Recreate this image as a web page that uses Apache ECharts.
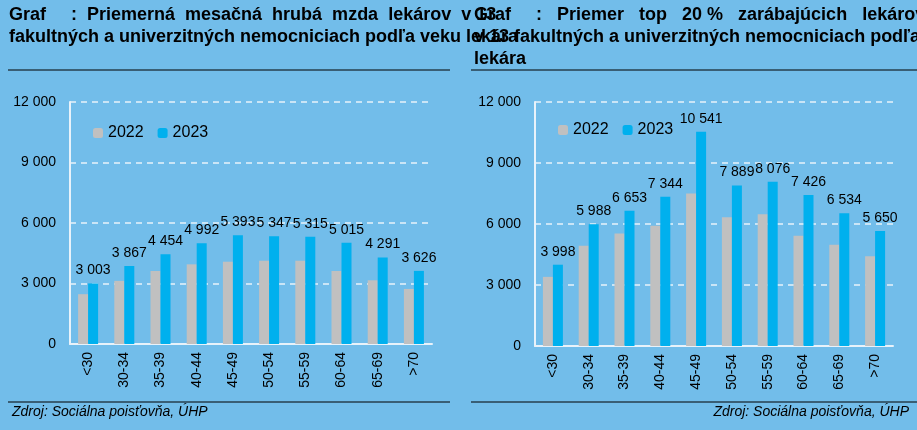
<!DOCTYPE html>
<html lang="sk">
<head>
<meta charset="UTF-8">
<title>Graf</title>
<script src="https://cdn.jsdelivr.net/npm/echarts@6/dist/echarts.min.js"></script>
<style>html,body{margin:0;padding:0;background:#72bdea;}</style>
</head>
<body>
<div id="main" style="width:917px;height:430px;"></div>
<script>
var categories = ['<30', '30-34', '35-39', '40-44', '45-49', '50-54', '55-59', '60-64', '65-69', '>70'];
var avg2022 = [2470, 3130, 3620, 3950, 4080, 4130, 4130, 3620, 3160, 2730];
var avg2023 = [3003, 3867, 4454, 4992, 5393, 5347, 5315, 5015, 4291, 3626];
var top2022 = [3400, 4930, 5530, 5910, 7500, 6330, 6480, 5420, 4980, 4420];
var top2023 = [3998, 5988, 6653, 7344, 10541, 7889, 8076, 7426, 6534, 5650];
var yTicks = [0, 3000, 6000, 9000, 12000];

var font = '"Liberation Sans Narrow", "Arial Narrow", sans-serif';
function fmt(v) { return String(v).replace(/\B(?=(\d{3})+(?!\d))/g, ' '); }

var myChart = echarts.init(document.getElementById('main'));

function xAxis(i) {
    return {
        type: 'category', gridIndex: i, data: categories,
        axisLine: {lineStyle: {color: '#e8f2fa', width: 2}},
        axisTick: {show: false},
        axisLabel: {rotate: 90, color: '#000', fontFamily: font, fontSize: 14, margin: 8}
    };
}
function yAxis(i) {
    return {
        type: 'value', gridIndex: i, min: 0, max: 12000, interval: 3000,
        axisLine: {show: true, lineStyle: {color: '#e8f2fa', width: 2}},
        axisTick: {show: false},
        axisLabel: {color: '#000', fontFamily: font, fontSize: 14, margin: 14, formatter: fmt},
        splitLine: {lineStyle: {color: '#e8f2fa', type: [6, 5], width: 1.5}}
    };
}
function bars(name, data, i, color, label) {
    return {
        name: name, type: 'bar', xAxisIndex: i, yAxisIndex: i, data: data,
        barWidth: 10, barGap: '0%', itemStyle: {color: color},
        label: {show: label, position: 'top', distance: 6, color: '#000', fontFamily: font, fontSize: 14,
            formatter: function (p) { return fmt(p.value); }}
    };
}

var titleStyle = {fill: '#000', font: 'bold 18px ' + font, lineHeight: 22};
var option = {
    backgroundColor: '#72bdea',
    animation: false,
    grid: [
        {left: 70, top: 102, width: 362, height: 242},
        {left: 535, top: 102, width: 358, height: 244}
    ],
    legend: [
        {left: 88, top: 120, itemWidth: 10, itemHeight: 10, itemGap: 14, data: ['2022', '2023'],
            textStyle: {fontFamily: font, fontSize: 16, color: '#000'}},
        {left: 553, top: 117, itemWidth: 10, itemHeight: 10, itemGap: 14, data: ['2022', '2023'],
            textStyle: {fontFamily: font, fontSize: 16, color: '#000'}}
    ],
    xAxis: [xAxis(0), xAxis(1)],
    yAxis: [yAxis(0), yAxis(1)],
    series: [
        bars('2022', avg2022, 0, '#c0c0c0', false),
        bars('2023', avg2023, 0, '#00b0ee', true),
        bars('2022', top2022, 1, '#c0c0c0', false),
        bars('2023', top2023, 1, '#00b0ee', true)
    ],
    graphic: [
        {type: 'text', left: 9, top: 4, style: Object.assign({
            text: 'Graf     :  Priemerná  mesačná  hrubá  mzda  lekárov  v 13\nfakultných a univerzitných nemocniciach podľa veku lekára'}, titleStyle)},
        {type: 'line', shape: {x1: 8, y1: 70, x2: 450, y2: 70}, style: {stroke: '#000', lineWidth: 1}},
        {type: 'text', left: 474, top: 4, style: Object.assign({
            text: 'Graf     :   Priemer   top   20 %   zarábajúcich   lekárov\nv 13 fakultných a univerzitných nemocniciach podľa veku\nlekára'}, titleStyle)},
        {type: 'line', shape: {x1: 471, y1: 70, x2: 917, y2: 70}, style: {stroke: '#000', lineWidth: 1}},
        {type: 'line', shape: {x1: 8, y1: 402, x2: 450, y2: 402}, style: {stroke: '#000', lineWidth: 1}},
        {type: 'line', shape: {x1: 471, y1: 402, x2: 917, y2: 402}, style: {stroke: '#000', lineWidth: 1}},
        {type: 'text', left: 12, top: 405, style: {text: 'Zdroj: Sociálna poisťovňa, ÚHP', fill: '#000', font: 'italic 14px ' + font}},
        {type: 'text', right: 8, top: 405, style: {text: 'Zdroj: Sociálna poisťovňa, ÚHP', fill: '#000', font: 'italic 14px ' + font}}
    ]
};
myChart.setOption(option);
</script>
</body>
</html>
